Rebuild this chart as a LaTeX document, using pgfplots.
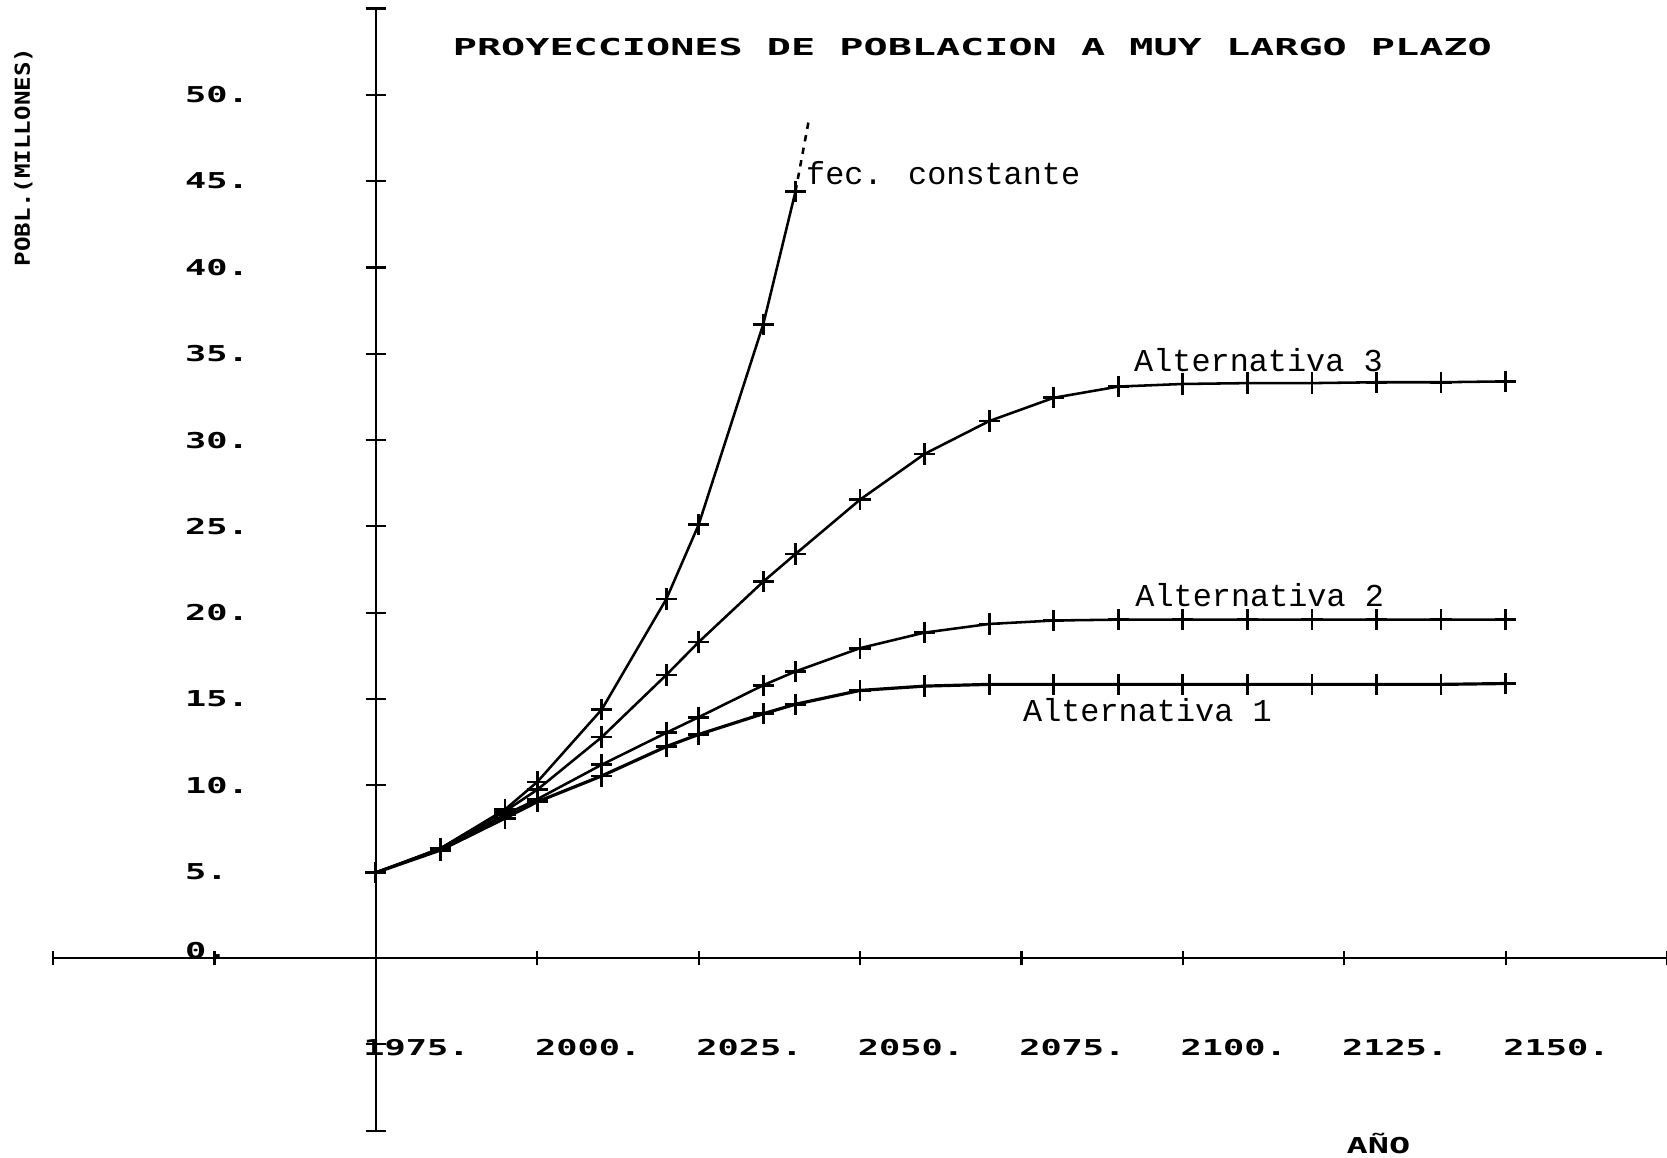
\documentclass[border=0pt]{standalone}
\usepackage{pgfplots}
\pgfplotsset{compat=1.18}
\usepackage{fontspec}
\newfontfamily\plotfont{DejaVu Sans Mono}
\newfontfamily\labfont{Liberation Mono}
\newcommand{\tk}[1]{\scalebox{1}[0.62]{\fontsize{16.6pt}{18pt}\selectfont\plotfont\bfseries #1}}
\pgfplotsset{myline/.style={black, line width=1.2pt, mark=+, mark size=5pt, mark options={solid, line width=1.3pt}}}
\begin{document}
\begin{tikzpicture}
\useasboundingbox (-25pt,-12.7pt) rectangle (760pt,532.45pt);
\begin{axis}[
  at={(0,0)}, anchor=south west,
  x=3.04pt, y=8.13pt,
  xmin=1925, xmax=2175, ymin=-10, ymax=55,
  enlargelimits=false,
  hide axis, clip=false,
]
% axes
\draw[line width=1.2pt] (1925,0) -- (2175,0);
\draw[line width=1.1pt] (1975,-10) -- (1975,55);
\foreach \xx in {1925,1950,1975,2000,2025,2050,2075,2100,2125,2150,2175}{
  \edef\tmp{\noexpand\draw[line width=1pt] (\xx,-0.43) -- (\xx,0.43);}\tmp
}
\foreach \yy in {-10,-5,5,10,15,20,25,30,35,40,45,50,55}{
  \edef\tmp{\noexpand\draw[line width=1pt] (1973.4,\yy) -- (1976.6,\yy);}\tmp
}
% y tick labels
\node[anchor=west, inner sep=0] at (1945.4,50) {\tk{50.}};
\node[anchor=west, inner sep=0] at (1945.4,45) {\tk{45.}};
\node[anchor=west, inner sep=0] at (1945.4,40) {\tk{40.}};
\node[anchor=west, inner sep=0] at (1945.4,35) {\tk{35.}};
\node[anchor=west, inner sep=0] at (1945.4,30) {\tk{30.}};
\node[anchor=west, inner sep=0] at (1945.4,25) {\tk{25.}};
\node[anchor=west, inner sep=0] at (1945.4,20) {\tk{20.}};
\node[anchor=west, inner sep=0] at (1945.4,15) {\tk{15.}};
\node[anchor=west, inner sep=0] at (1945.4,10) {\tk{10.}};
\node[anchor=west, inner sep=0] at (1945.4,5) {\tk{5.}};
\node[anchor=west, inner sep=0] at (1945.4,0.45) {\tk{0.}};
% x tick labels
\node[anchor=west, inner sep=0] at (1973,-5.2) {\tk{1975.}};
\node[anchor=west, inner sep=0] at (1999.6,-5.2) {\tk{2000.}};
\node[anchor=west, inner sep=0] at (2024.6,-5.2) {\tk{2025.}};
\node[anchor=west, inner sep=0] at (2049.6,-5.2) {\tk{2050.}};
\node[anchor=west, inner sep=0] at (2074.6,-5.2) {\tk{2075.}};
\node[anchor=west, inner sep=0] at (2099.6,-5.2) {\tk{2100.}};
\node[anchor=west, inner sep=0] at (2124.6,-5.2) {\tk{2125.}};
\node[anchor=west, inner sep=0] at (2149.6,-5.2) {\tk{2150.}};
% axis titles
\node[anchor=center, inner sep=0] at (2067.4,52.77) {\scalebox{1}[0.58]{\fontsize{18.9pt}{20pt}\selectfont\plotfont\bfseries PROYECCIONES DE POBLACION A MUY LARGO PLAZO}};
\node[anchor=center, inner sep=0, rotate=90] at (1920.4,46.4) {\scalebox{1}[0.85]{\fontsize{11.4pt}{13pt}\selectfont\plotfont\bfseries POBL.(MILLONES)}};
\node[anchor=center, inner sep=0] at (2130.3,-10.76) {\tk{AÑO}};
% curve labels
\node[anchor=base west, inner sep=0] at (2041.6,44.8) {\fontsize{15pt}{17pt}\selectfont\labfont fec. constante};
\node[anchor=base west, inner sep=0] at (2092.4,34.0) {\fontsize{15pt}{17pt}\selectfont\labfont Alternativa 3};
\node[anchor=base west, inner sep=0] at (2092.6,20.36) {\fontsize{15pt}{17pt}\selectfont\labfont Alternativa 2};
\node[anchor=base west, inner sep=0] at (2075.2,13.7) {\fontsize{15pt}{17pt}\selectfont\labfont Alternativa 1};
% fec. constante
\addplot[myline] coordinates {(1975,4.95) (1985,6.35) (1995,8.6) (2000,10.2) (2010,14.4) (2020,20.8) (2025,25.1) (2035,36.7) (2040,44.4)};
\addplot[black, line width=1.2pt, dashed, mark=none] coordinates {(2040,44.4) (2042,48.4)};
% Alternativa 3
\addplot[myline] coordinates {(1975,4.95) (1985,6.35) (1995,8.5) (2000,9.75) (2010,12.8) (2020,16.4) (2025,18.3) (2035,21.8) (2040,23.4) (2050,26.55) (2060,29.2) (2070,31.1) (2080,32.45) (2090,33.1) (2100,33.25) (2110,33.3) (2120,33.3) (2130,33.35) (2140,33.35) (2150,33.4)};
% Alternativa 2
\addplot[myline] coordinates {(1975,4.95) (1985,6.3) (1995,8.3) (2000,9.2) (2010,11.2) (2020,13.05) (2025,13.95) (2035,15.8) (2040,16.6) (2050,17.95) (2060,18.85) (2070,19.35) (2080,19.55) (2090,19.6) (2100,19.6) (2110,19.6) (2120,19.6) (2130,19.6) (2140,19.6) (2150,19.6)};
% Alternativa 1
\addplot[myline, line width=1.5pt] coordinates {(1975,4.95) (1985,6.25) (1995,8.1) (2000,9.05) (2010,10.55) (2020,12.25) (2025,12.95) (2035,14.15) (2040,14.7) (2050,15.5) (2060,15.75) (2070,15.85) (2080,15.85) (2090,15.85) (2100,15.85) (2110,15.85) (2120,15.85) (2130,15.85) (2140,15.85) (2150,15.9)};
\end{axis}
\end{tikzpicture}
\end{document}
